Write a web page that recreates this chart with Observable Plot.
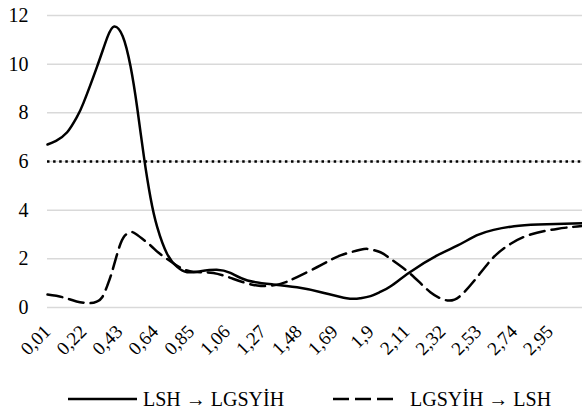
<!DOCTYPE html>
<html>
<head>
<meta charset="utf-8">
<script src="https://cdn.jsdelivr.net/npm/d3@7"></script>
<script src="https://cdn.jsdelivr.net/npm/@observablehq/plot@0.6"></script>
</head>
<body style="margin:0;padding:0;background:#fff;font-family:'Liberation Serif'">
<div id="chart" style="width:582px;height:386px"></div>
<div id="legend" style="width:582px;height:30px;position:relative;font-family:'Liberation Serif';font-size:20px"></div>
<script>
// Frequency grid and statistics
const freqA = [0.01, 0.06, 0.125, 0.18, 0.22, 0.30, 0.36, 0.40, 0.45, 0.496, 0.535, 0.574, 0.613, 0.652, 0.71, 0.77, 0.827, 0.905, 1.0, 1.08, 1.18, 1.33, 1.47, 1.61, 1.76, 1.84, 1.90, 1.96, 2.02, 2.13, 2.29, 2.41, 2.52, 2.62, 2.74, 2.88, 3.14];
const statA = [6.7, 6.85, 7.2, 7.8, 8.4, 9.9, 11.1, 11.55, 11.15, 9.9, 8.2, 6.2, 4.5, 3.3, 2.2, 1.66, 1.45, 1.49, 1.55, 1.42, 1.11, 0.95, 0.83, 0.63, 0.38, 0.38, 0.47, 0.65, 0.88, 1.45, 2.14, 2.55, 2.96, 3.19, 3.34, 3.41, 3.46];
const freqB = [0.01, 0.10, 0.18, 0.26, 0.30, 0.33, 0.36, 0.39, 0.437, 0.476, 0.50, 0.525, 0.613, 0.66, 0.75, 0.827, 0.905, 0.98, 1.08, 1.237, 1.373, 1.47, 1.607, 1.724, 1.84, 1.89, 1.958, 2.017, 2.134, 2.25, 2.35, 2.427, 2.524, 2.62, 2.72, 2.836, 2.99, 3.11, 3.14];
const statB = [0.53, 0.42, 0.25, 0.18, 0.25, 0.42, 0.9, 1.52, 2.62, 3.03, 3.08, 3.03, 2.55, 2.25, 1.8, 1.52, 1.45, 1.42, 1.22, 0.9, 0.97, 1.25, 1.73, 2.14, 2.37, 2.4, 2.27, 2.0, 1.38, 0.63, 0.29, 0.49, 1.25, 2.07, 2.62, 3.0, 3.23, 3.33, 3.35];
const criticalValue = [6];
const xTickValues = [0.01, 0.22, 0.43, 0.64, 0.85, 1.06, 1.27, 1.48, 1.69, 1.9, 2.11, 2.32, 2.53, 2.74, 2.95];
const yTickValues = [0, 2, 4, 6, 8, 10, 12];
const labelA = "LSH \u2192 LGSY\u0130H";
const labelB = "LGSY\u0130H \u2192 LSH";

const rowsA = freqA.map((f, i) => ({f, v: statA[i]}));
const rowsB = freqB.map((f, i) => ({f, v: statB[i]}));

const svg = Plot.plot({
  width: 582, height: 386,
  marginLeft: 47, marginRight: 0, marginTop: 15, marginBottom: 79,
  style: {fontFamily: "Liberation Serif", fontSize: "20px"},
  x: {type: "linear", domain: [0.01, 3.14]},
  y: {domain: [0, 12]},
  marks: [
    Plot.gridY(yTickValues, {stroke: "#d9d9d9", strokeOpacity: 1, strokeWidth: 1.5}),
    Plot.axisY(yTickValues, {tickSize: 0, tickPadding: 19, label: null}),
    Plot.axisX(xTickValues, {tickSize: 0, tickPadding: 21, tickRotate: -45, fontSize: 19, label: null,
      tickFormat: d => String(d).replace(".", ",")}),
    Plot.ruleY(criticalValue, {stroke: "#000", strokeWidth: 2.5, strokeDasharray: "2.5,3.6"}),
    Plot.line(rowsA, {x: "f", y: "v", curve: "natural", stroke: "#000", strokeWidth: 2.5}),
    Plot.line(rowsB, {x: "f", y: "v", curve: "natural", stroke: "#000", strokeWidth: 2.5, strokeDasharray: "15,7"})
  ]
});
d3.select(svg).selectAll("text").style("font-family", "Liberation Serif");
document.getElementById("chart").appendChild(svg);

// legend drawn as a small SVG, centred under the plot area
const lg = d3.select("#legend").append("svg").attr("width", 582).attr("height", 30)
  .style("font-family", "Liberation Serif").style("font-size", "20px");
const entries = [{x: 68, w: 69, gap: 6, da: null, label: labelA}, {x: 333, w: 60, gap: 17, da: "16,6", label: labelB}];
entries.forEach(e => {
  lg.append("line").attr("x1", e.x).attr("x2", e.x + e.w).attr("y1", 13).attr("y2", 13)
    .attr("stroke", "#000").attr("stroke-width", 2.5).attr("stroke-dasharray", e.da);
  lg.append("text").attr("x", e.x + e.w + e.gap).attr("y", 13).attr("dy", "0.35em")
    .attr("font-family", "Liberation Serif").text(e.label);
});
</script>
</body>
</html>
